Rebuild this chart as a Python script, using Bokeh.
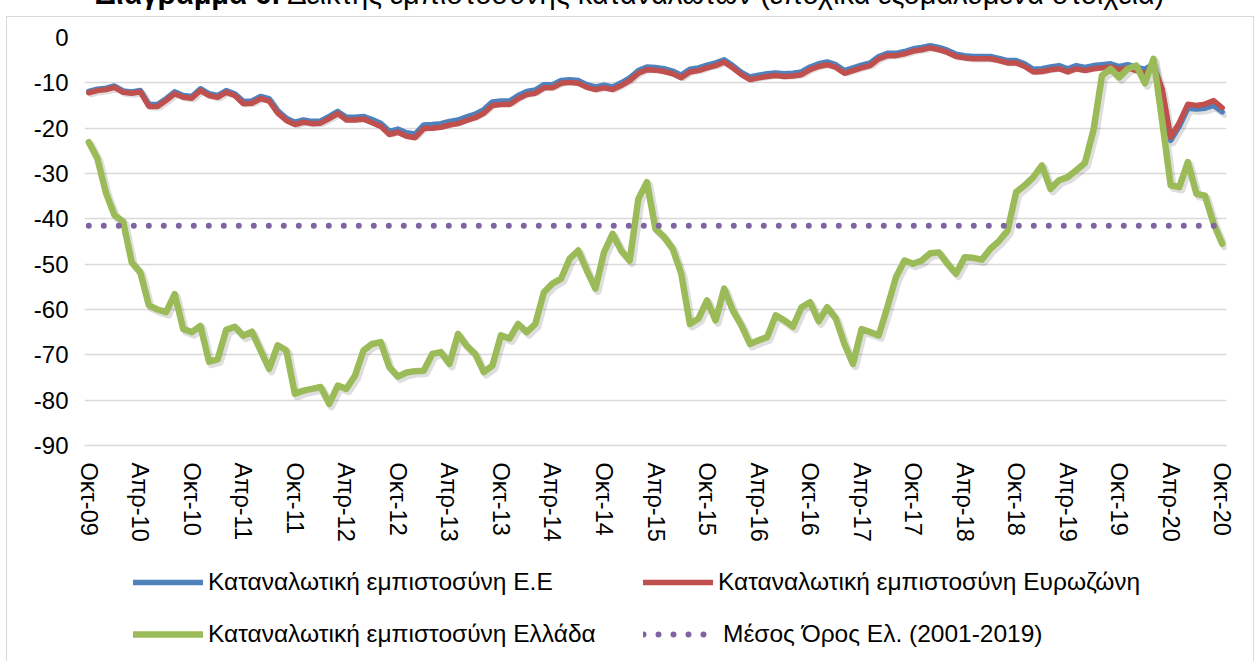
from bokeh.plotting import figure
from bokeh.layouts import column
from bokeh.models import (ColumnDataSource, Range1d, FixedTicker, Legend, LegendItem, Div)
from bokeh.transform import dodge
from bokeh.embed import file_html
from bokeh.resources import INLINE

# ---------------- data ----------------
title_bold = "Διάγραμμα 6:"
title_rest = "Δείκτης εμπιστοσύνης καταναλωτών (εποχικά εξομαλυμένα στοιχεία)"

tick_labels = ["Οκτ-09", "Απρ-10", "Οκτ-10", "Απρ-11", "Οκτ-11", "Απρ-12", "Οκτ-12",
               "Απρ-13", "Οκτ-13", "Απρ-14", "Οκτ-14", "Απρ-15", "Οκτ-15", "Απρ-16",
               "Οκτ-16", "Απρ-17", "Οκτ-17", "Απρ-18", "Οκτ-18", "Απρ-19", "Οκτ-19",
               "Απρ-20", "Οκτ-20"]

series_names = ["Καταναλωτική εμπιστοσύνη Ε.Ε",
                "Καταναλωτική εμπιστοσύνη Ευρωζώνη",
                "Καταναλωτική εμπιστοσύνη Ελλάδα",
                "Μέσος Όρος Ελ. (2001-2019)"]

eu = [-11.9, -11.4, -11.2, -10.7, -11.8, -12.0, -11.7, -14.8, -14.8, -13.5,
      -12.0, -12.8, -13.0, -11.3, -12.4, -12.8, -11.7, -12.4, -14.1, -14.0,
      -13.0, -13.5, -16.2, -17.8, -18.7, -18.2, -18.5, -18.4, -17.4, -16.3,
      -17.6, -17.6, -17.4, -18.1, -18.9, -20.7, -20.2, -21.0, -21.3, -19.3,
      -19.2, -19.0, -18.5, -18.2, -17.5, -16.9, -15.9, -14.2, -14.0, -14.0,
      -12.8, -11.9, -11.6, -10.4, -10.4, -9.5, -9.3, -9.5, -10.4, -10.9,
      -10.5, -10.9, -10.0, -8.9, -7.3, -6.5, -6.6, -6.9, -7.4, -8.3,
      -7.0, -6.7, -6.1, -5.6, -4.9, -6.2, -7.7, -8.7, -8.3, -8.0,
      -7.8, -8.0, -7.9, -7.6, -6.5, -5.8, -5.4, -6.0, -7.3, -6.7,
      -6.1, -5.6, -4.2, -3.5, -3.5, -3.1, -2.5, -2.2, -1.8, -2.2,
      -2.8, -3.7, -4.0, -4.2, -4.2, -4.2, -4.6, -5.1, -5.1, -5.8,
      -7.0, -6.9, -6.5, -6.2, -6.9, -6.2, -6.6, -6.2, -6.0, -5.8,
      -6.4, -6.0, -6.6, -7.0, -5.8, -11.8, -22.7, -19.6, -15.6, -15.8,
      -15.6, -15.0, -16.4]

ez = [-12.2, -11.7, -11.5, -11.0, -12.1, -12.3, -12.0, -15.2, -15.2, -13.9,
      -12.4, -13.2, -13.4, -11.7, -12.8, -13.2, -12.1, -12.8, -14.6, -14.5,
      -13.5, -14.0, -16.7, -18.3, -19.2, -18.7, -19.0, -18.9, -17.9, -16.8,
      -18.2, -18.2, -18.0, -18.8, -19.6, -21.4, -20.9, -21.8, -22.1, -20.1,
      -20.0, -19.8, -19.3, -19.0, -18.3, -17.7, -16.7, -15.0, -14.8, -14.8,
      -13.5, -12.6, -12.3, -11.1, -11.1, -10.1, -9.9, -10.1, -11.0, -11.5,
      -11.1, -11.5, -10.6, -9.5, -7.9, -7.1, -7.2, -7.5, -8.0, -8.9,
      -7.6, -7.3, -6.7, -6.2, -5.4, -6.7, -8.2, -9.3, -8.9, -8.6,
      -8.4, -8.6, -8.5, -8.2, -7.1, -6.4, -6.0, -6.6, -7.9, -7.3,
      -6.7, -6.2, -4.7, -4.0, -4.0, -3.6, -3.0, -2.7, -2.3, -2.7,
      -3.3, -4.2, -4.5, -4.7, -4.7, -4.7, -5.1, -5.6, -5.6, -6.4,
      -7.6, -7.5, -7.1, -6.9, -7.6, -6.9, -7.3, -6.9, -6.7, -6.5,
      -7.1, -6.7, -7.3, -7.9, -6.4, -11.3, -22.0, -18.8, -14.7, -15.0,
      -14.7, -13.9, -15.5]

gr = [-23.1, -26.7, -34.3, -39.2, -40.6, -49.6, -51.8, -59.1, -60.0, -60.6,
      -56.6, -64.3, -65.0, -63.6, -71.5, -71.0, -64.5, -63.8, -65.8, -64.9,
      -69.0, -73.1, -67.9, -69.0, -78.6, -77.9, -77.5, -77.1, -80.8, -76.8,
      -77.5, -74.6, -69.0, -67.6, -67.2, -72.7, -74.8, -73.9, -73.6, -73.5,
      -69.8, -69.4, -72.0, -65.4, -68.0, -69.8, -73.8, -72.4, -65.7, -66.4,
      -63.2, -65.0, -63.2, -56.2, -54.3, -53.2, -48.8, -47.0, -51.4, -55.4,
      -47.4, -43.3, -47.0, -49.2, -35.6, -31.9, -42.2, -44.0, -46.6, -52.1,
      -63.2, -62.0, -58.0, -62.4, -55.4, -60.2, -63.5, -67.6, -66.8, -66.1,
      -61.3, -62.4, -63.8, -59.5, -58.4, -62.6, -59.5, -62.0, -67.6, -72.0,
      -64.3, -65.0, -65.7, -59.5, -52.9, -49.2, -49.9, -49.2, -47.6, -47.4,
      -49.9, -52.1, -48.5, -48.6, -49.0, -46.6, -44.9, -42.6, -34.1, -32.6,
      -30.8, -28.2, -33.4, -31.5, -30.8, -29.3, -27.7, -20.5, -8.4, -6.9,
      -8.8, -6.9, -6.2, -10.1, -4.7, -18.3, -32.6, -33.0, -27.5, -34.5,
      -34.9, -41.1, -45.5]

gr_avg = -41.5

y_ticks = [0, -10, -20, -30, -40, -50, -60, -70, -80, -90]

# ---------------- styles ----------------
FONT = "Liberation Sans"
COLORS = ["#4F81BD", "#C0504D", "#9BBB59", "#8064A2"]
LINE_W = [5.5, 5.5, 6.5, 6]
DASH = ["solid", "solid", "solid", "0 15"]

# ---------------- main figure ----------------
months = list(range(len(gr)))
source = ColumnDataSource(dict(x=months, eu=eu, ez=ez, gr=gr))
avg_src = ColumnDataSource(dict(x=[months[0], months[-1]], y=[gr_avg, gr_avg]))

p = figure(width=1246, height=528, output_backend="svg", toolbar_location=None,
           x_range=Range1d(-0.5, len(gr) - 0.5), y_range=Range1d(-90, 0),
           min_border_left=77, min_border_right=27, min_border_top=20,
           min_border_bottom=100, margin=0)
p.background_fill_color = "white"
p.border_fill_color = "white"
p.outline_line_color = None

p.xgrid.visible = False
p.ygrid.ticker = FixedTicker(ticks=y_ticks)
p.ygrid.grid_line_color = "#D9D9D9"
p.ygrid.grid_line_width = 1.5

p.yaxis.ticker = FixedTicker(ticks=y_ticks)
p.yaxis.major_label_overrides = {t: str(t) for t in y_ticks}
p.yaxis.axis_line_color = None
p.yaxis.major_tick_line_color = None
p.yaxis.minor_tick_line_color = None
p.yaxis.major_tick_out = 0
p.yaxis.major_tick_in = 0
p.yaxis.major_label_standoff = 16
p.yaxis.major_label_text_font = FONT
p.yaxis.major_label_text_font_size = "24px"
p.yaxis.major_label_text_color = "black"

x_tick_pos = [i * 6 for i in range(len(tick_labels))]
p.xaxis.ticker = FixedTicker(ticks=x_tick_pos)
p.xaxis.major_label_overrides = {pos: lab for pos, lab in zip(x_tick_pos, tick_labels)}
p.xaxis.major_label_orientation = "vertical"
p.xaxis.axis_line_color = "#D9D9D9"
p.xaxis.axis_line_width = 1.5
p.xaxis.major_tick_line_color = None
p.xaxis.minor_tick_line_color = None
p.xaxis.major_tick_out = 0
p.xaxis.major_tick_in = 0
p.xaxis.major_label_standoff = 17
p.xaxis.major_label_text_font = FONT
p.xaxis.major_label_text_font_size = "23.5px"
p.xaxis.major_label_text_color = "black"

# soft shadows
SH = dict(line_color="black", line_alpha=0.13, line_cap="round", line_join="round")
p.line(x=dodge("x", 0.28), y=dodge("eu", -0.6), source=source, line_width=6.5, **SH)
p.line(x=dodge("x", 0.28), y=dodge("gr", -0.6), source=source, line_width=7.5, **SH)

for col, c, w, d in zip(["eu", "ez", "gr"], COLORS[:3], LINE_W[:3], DASH[:3]):
    p.line("x", col, source=source, line_color=c, line_width=w, line_dash=d,
           line_cap="round", line_join="round")
p.line("x", "y", source=avg_src, line_color=COLORS[3], line_width=LINE_W[3],
       line_dash=DASH[3], line_cap="round")

# ---------------- legend strip (frame aligned with the chart's frame) ----------------
pl = figure(width=1246, height=116, output_backend="svg", toolbar_location=None,
            x_range=Range1d(0, 1), y_range=Range1d(0, 1),
            x_axis_type=None, y_axis_type=None, min_border_left=77,
            min_border_right=27, min_border_top=0, min_border_bottom=0, margin=0)
pl.grid.visible = False
pl.outline_line_color = None
pl.background_fill_color = "white"
pl.border_fill_color = "white"

LEG = dict(orientation="horizontal", glyph_width=70, glyph_height=26, label_height=26,
           padding=0, margin=0, spacing=0, border_line_color=None,
           background_fill_alpha=0, label_text_font=FONT,
           label_text_font_size="24.5px", label_text_color="black")
legend_pos = [(49, 65), (559, 65), (49, 13), (559, 13)]
standoffs = [5, 5, 5, 10]
# legend proxies: the same series, out of this strip's visible ranges
proxy_data = [("x", "eu", source), ("x", "ez", source), ("x", "gr", source), ("x", "y", avg_src)]
for name, c, w, d, loc, so, (xf, yf, src) in zip(series_names, COLORS, LINE_W, DASH,
                                                   legend_pos, standoffs, proxy_data):
    r = pl.line(xf, yf, source=src, line_color=c, line_width=w, line_dash=d,
                line_cap="round", line_join="round")
    pl.add_layout(Legend(items=[LegendItem(label=name, renderers=[r])], location=loc,
                         label_standoff=so, **LEG), "center")

# ---------------- title (cut off at the top edge, as in the source) ----------------
title_html = (
    '<div style="height:17px;overflow:hidden;width:1255px;">'
    '<div style="margin-top:-22px;padding-left:95px;font-family:\'Liberation Sans\',Arial,sans-serif;'
    'font-size:29px;line-height:33px;white-space:nowrap;color:#000;">'
    f'<b>{title_bold}</b> {title_rest}</div></div>'
)
title_div = Div(text=title_html, width=1255, height=17, margin=0)

chart = column(p, pl, spacing=0, margin=(0, 0, 0, 7),
               styles={"outline": "1px solid #D9D9D9"})
layout = column(title_div, chart, spacing=0, margin=0)

open("out.html", "w").write(file_html(layout, INLINE))
